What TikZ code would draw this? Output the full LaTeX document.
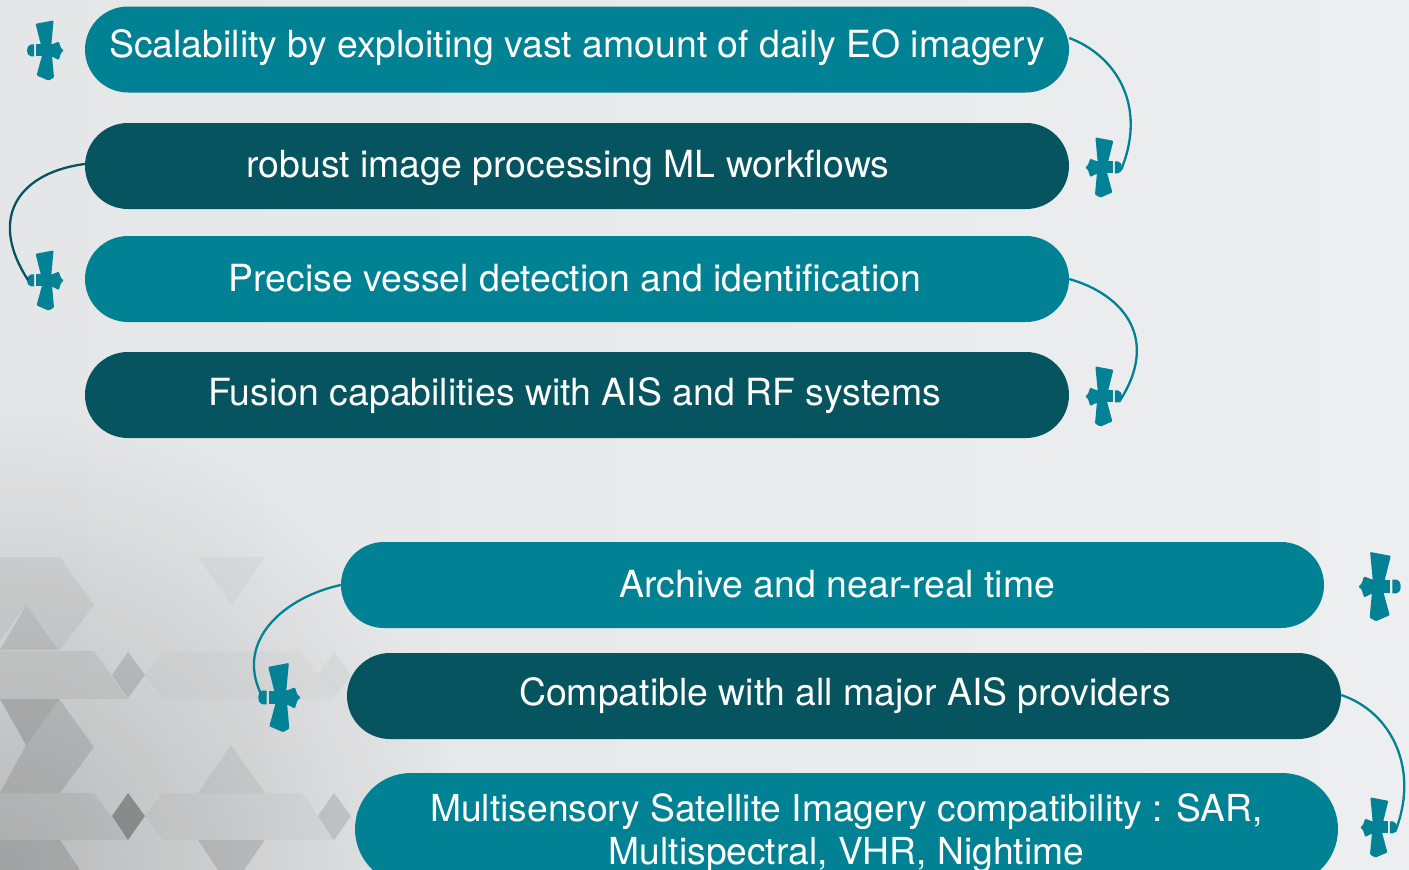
\documentclass[tikz,border=0pt]{standalone}
\usepackage{fontspec}
\setmainfont{TeX Gyre Heros}
\usetikzlibrary{shapes.misc,fadings}
\definecolor{teal1}{RGB}{0,130,148}
\definecolor{teal2}{RGB}{5,84,95}
\definecolor{satc}{RGB}{2,130,148}
\definecolor{bgmid}{RGB}{229,230,231}
\definecolor{bglite}{RGB}{237,238,239}
\tikzfading[name=cornerfade,inner color=transparent!0,outer color=transparent!100]
\newcommand{\pilltext}[2]{\smash{\raisebox{#1pt}{#2}}}
\tikzset{
  x=1pt,y=-1pt,
  pill/.style={shape=rounded rectangle,minimum height=86pt,inner sep=0pt,text=white,
    font=\fontsize{37.4}{43}\selectfont,align=center,anchor=center},
  light/.style={pill,fill=teal1},
  dark/.style={pill,fill=teal2},
  link/.style={draw=teal1,line width=2.3pt},
  tone/.style={fill=black,fill opacity=#1},
  sat/.pic={
    \fill[satc,rounded corners=1pt] (-9.4,-26.2) -- (8.6,-29.6) -- (6.2,-4) -- (-3.8,-4) -- cycle;
    \fill[satc,rounded corners=1pt] (-3,5.5) -- (7,5.5) -- (9,27.5) -- (3.6,30.6) -- (-8.4,25.4) -- cycle;
    \fill[satc] (-8.6,-5.6) rectangle (5,6.4);
    \fill[satc] (-10.8,-5.6) -- (-10.8,6.4) -- (-14,6.4) .. controls (-16.8,5.8) and (-18,3.4) .. (-18,0.5) .. controls (-18,-2.4) and (-16.8,-5) .. (-14,-5.6) -- cycle;
    \fill[satc,rounded corners=1pt] (4.5,-5.5) -- (8,-6) -- (13.8,-8.4) -- (16,-2) -- (18.8,0.5) -- (16,3) -- (13.8,10) -- (8,7) -- (4.5,6.4) -- cycle;
  },
}
\begin{document}
\begin{tikzpicture}
\useasboundingbox (0,0) rectangle (1409,870);
\begin{scope}
\clip (0,0) rectangle (1409,870);
% background
\shade[left color=bgmid,right color=bglite,shading angle=90] (0,0) rectangle (1409,870);
\fill[black,path fading=cornerfade,fill opacity=.2] (0,870) circle (470);
\fill[tone=.05] (0,557) -- (60,557) -- (94,605) -- (60,650) -- (26,605) -- (0,640) -- cycle;
\fill[tone=.1] (0,650) -- (26,605) -- (59,650) -- cycle;
\fill[tone=.06] (0,651) -- (94,651) -- (128,699) -- (0,699) -- cycle;
\fill[tone=.16] (0,699) -- (59,699) -- (26,745) -- cycle;
\fill[tone=.11] (59,699) -- (94,747) -- (60,793) -- (0,793) -- (26,745) -- cycle;
\fill[tone=.06] (0,793) -- (94,793) -- (128,840) -- (0,840) -- cycle;
\fill[tone=.12] (0,840) -- (60,840) -- (80,870) -- (0,870) -- cycle;
\fill[tone=.03] (163,793) -- (302,793) -- (334,840) -- (163,840) -- (145,816) -- cycle;
\fill[tone=.06] (198,793) -- (231,745) -- (265,793) -- cycle;
\fill[tone=.12] (198,840) -- (265,840) -- (244,870) -- (218,870) -- cycle;
\fill[tone=.03] (198,557) -- (265,557) -- (231,605) -- cycle;
\fill[tone=.02] (163,651) -- (300,651) -- (334,699) -- (163,699) -- (145,675) -- cycle;
\fill[tone=.12] (128,652) -- (112,675) -- (128,698) -- (145,675) -- cycle;
\fill[tone=.3] (128,793) -- (112,816) -- (128,840) -- (145,816) -- cycle;
\fill[tone=.12] (334,793) -- (318,816) -- (334,840) -- (351,816) -- cycle;
\fill[tone=.03] (334,652) -- (318,675) -- (334,698) -- (351,675) -- cycle;
% pills
\node[light,minimum width=984pt] (p1) at (577,49.5) {\pilltext{-7.5}{Scalability by exploiting vast amount of daily EO imagery}};
\node[dark,minimum width=984pt] (p2) at (577,166) {\hspace*{-18pt}\pilltext{-11}{robust image processing ML workflows}};
\node[light,minimum width=984pt] (p3) at (577,279) {\hspace*{-4pt}\pilltext{-12}{Precise vessel detection and identification}};
\node[dark,minimum width=984pt] (p4) at (577,395) {\hspace*{-4pt}\pilltext{-10}{Fusion capabilities with AIS and RF systems}};
\node[light,minimum width=983pt] (p5) at (832.5,585) {\hspace*{10pt}\pilltext{-12}{Archive and near-real time}};
\node[dark,minimum width=994pt] (p6) at (844,696) {\hspace*{2pt}\pilltext{-9}{Compatible with all major AIS providers}};
\node[light,minimum width=983pt,minimum height=112pt] (p7) at (846.5,829) {\pilltext{8}{\parbox[t]{900pt}{\centering\fontsize{37.2}{43}\selectfont Multisensory Satellite Imagery compatibility : SAR,\\Multispectral, VHR, Nightime}}};
% satellites
\coordinate (s1) at (45,50);
\coordinate (s2) at (1104,167);
\coordinate (s3) at (45,280);
\coordinate (s4) at (1104,396);
\coordinate (s5) at (279,697);
\coordinate (s6) at (1380,586);
\coordinate (s7) at (1379,827);
\pic at (s1) {sat};
\pic[xscale=-1] at (s2) {sat};
\pic at (s3) {sat};
\pic[xscale=-1] at (s4) {sat};
\pic[scale=1.15] at (s5) {sat};
\pic[xscale=-1,scale=1.15] at (s6) {sat};
\pic[xscale=-1] at (s7) {sat};
% connectors
\draw[link] ([yshift=11.5pt]p1.east) .. controls (1115,55) and (1148,105) .. ([xshift=17pt,yshift=-3pt]s2);
\draw[link,draw=teal2] ([yshift=2pt]p2.west) .. controls (22,172) and (-14,215) .. ([xshift=-17pt]s3);
\draw[link] (p3.east) .. controls (1125,295) and (1160,340) .. ([xshift=15pt,yshift=-6pt]s4);
\draw[link] (p5.west) .. controls (285,597) and (235,640) .. ([xshift=-18pt,yshift=3pt]s5);
\draw[link] ([yshift=1pt]p6.east) .. controls (1392,712) and (1420,770) .. ([xshift=16pt,yshift=-5pt]s7);
\end{scope}
\end{tikzpicture}
\end{document}
